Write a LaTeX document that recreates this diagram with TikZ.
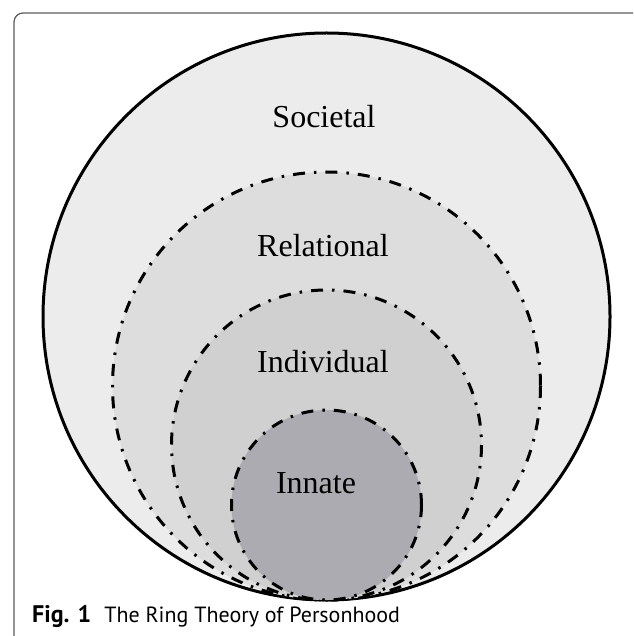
\documentclass[tikz,border=0pt]{standalone}
\usepackage{fontspec}
\setmainfont{Liberation Serif}
\newfontfamily\capfont{PT Sans}
\definecolor{socfill}{RGB}{236,236,236}
\definecolor{relfill}{RGB}{221,221,221}
\definecolor{indfill}{RGB}{208,208,208}
\definecolor{innfill}{RGB}{171,171,177}
\definecolor{framecol}{RGB}{90,90,90}
\begin{document}
\begin{tikzpicture}[x=1pt,y=-1pt,
  ringline/.style={line width=3pt, dash pattern=on 12pt off 9pt on 2.5pt off 9pt},
  lbl/.style={font=\fontsize{32}{36}\selectfont, inner sep=0pt, anchor=base},
  caption/.style={font=\capfont\fontsize{22}{26}\selectfont, inner sep=0pt, anchor=base west}]
\useasboundingbox (0,0) rectangle (633,636);
\begin{scope}
  \clip (0,0) rectangle (633,636);
  \draw[framecol, line width=1.2pt, rounded corners=9pt] (14,13) rectangle (650,670);
\end{scope}
% rings
\draw[fill=socfill, line width=3pt] (326.5,316.5) circle (283.5);
\draw[fill=relfill, ringline] (326.5,386) circle (214);
\draw[fill=indfill, ringline] (326.5,445) circle (155);
\draw[fill=innfill, ringline] (326.5,505) circle (95);
% labels
\node[lbl] (soc) at (324,128) {Societal};
\node[lbl] (rel) at (323,256) {Relational};
\node[lbl] (ind) at (323,372) {Individual};
\node[lbl] (inn) at (316,493) {Innate};
% caption
\node[caption] (cap) at (32,622) {{\fontsize{24}{26}\selectfont\textbf{Fig. 1}}\hspace{13pt}The Ring Theory of Personhood};
\end{tikzpicture}
\end{document}
